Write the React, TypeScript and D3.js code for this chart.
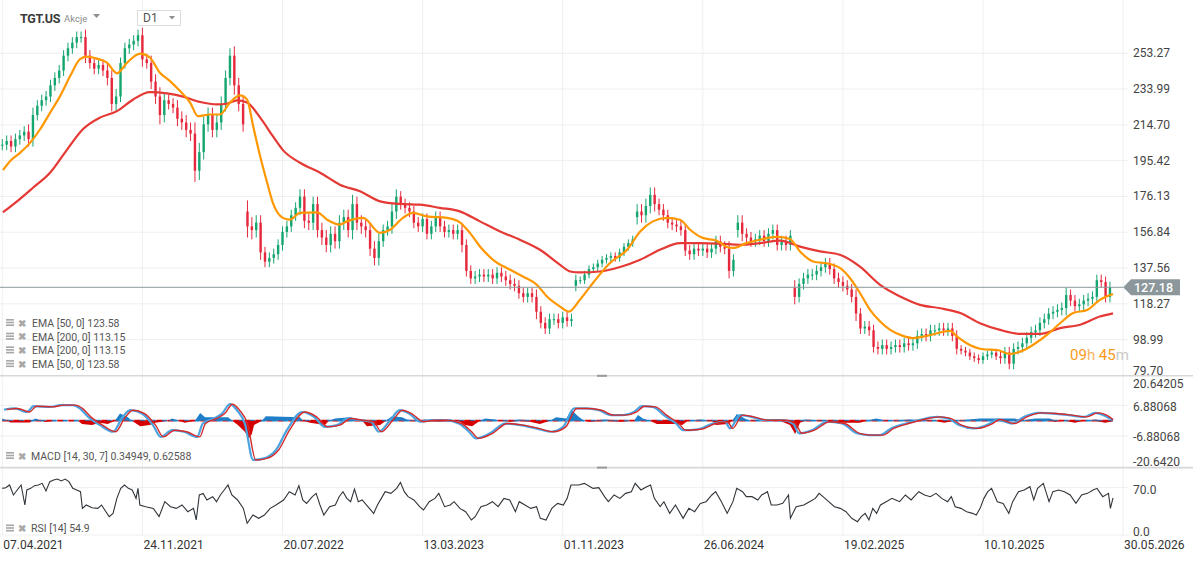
import React from "react";
import * as d3 from "d3";

// ---- data (weekly resolution, x in weeks from 07.04.2021) ----
const closes: number[] = [
  204, 206, 203, 207, 209, 211, 207, 220, 225, 228,
  230, 236, 240, 244, 252, 256, 259, 262, 262, 252,
  248, 245, 247, 244, 240, 226, 230, 248, 256, 258,
  260, 263, 250, 248, 238, 230, 220, 228, 226, 224,
  218, 216, 212, 210, 190, 200, 215, 220, 212, 216,
  226, 240, 252, 236, 226, 215, 160, 158, 162, 146,
  141, 143, 145, 150, 157, 160, 166, 170, 176, 163,
  162, 172, 158, 154, 150, 156, 152, 162, 165, 158,
  172, 162, 160, 158, 148, 143, 152, 158, 160, 168,
  176, 172, 170, 168, 162, 160, 164, 156, 160, 165,
  160, 157, 158, 156, 158, 150, 136, 132, 133, 134,
  133, 134, 132, 135, 133, 131, 129, 128, 124, 122,
  124, 122, 114, 108, 105, 110, 110, 108, 111, 109, 110,
  131, 131, 134, 137, 138, 140, 142, 143, 144, 143,
  146, 149, 151, 153, 168, 166, 171, 177, 172, 169,
  166, 162, 161, 160, 158, 147, 145, 148, 147, 148,
  146, 148, 152, 149, 148, 136, 142, 162, 156, 154,
  152, 153, 155, 152, 156, 158, 150, 152, 150, 155,
  122, 129, 132, 134, 134, 136, 138, 140, 137, 132,
  130, 128, 126, 122, 113, 105, 106, 104, 95, 94,
  96, 94, 95, 96, 95, 97, 96, 97, 101, 102,
  101, 104, 104, 105, 104, 105, 101, 94, 93, 92,
  90, 89, 88, 90, 91, 92, 90, 89, 92, 86,
  94, 95, 97, 100, 103, 104, 108, 110, 113, 114,
  115, 116, 123, 120, 117, 118, 120, 121, 122, 131,
  130, 122, 127.18,
];

// how far each week's candle reaches beyond its body (price units)
const weeklyRange: number[] = [
  3, 3, 3, 3, 3, 3, 4, 4, 3, 3,
  3, 3, 3, 3, 3, 3, 3, 3, 3, 4,
  3, 3, 3, 3, 4, 4, 4, 3, 3, 3,
  3, 3, 4, 3, 4, 4, 5, 4, 3, 3,
  4, 4, 4, 4, 6, 5, 4, 4, 4, 4,
  4, 4, 4, 5, 4, 4, 6, 5, 4, 4,
  3, 3, 3, 3, 3, 3, 3, 3, 4, 4,
  4, 4, 4, 4, 4, 4, 4, 4, 4, 4,
  5, 4, 4, 4, 4, 4, 4, 3, 3, 4,
  4, 3, 3, 3, 3, 3, 3, 3, 3, 3,
  3, 3, 3, 3, 3, 4, 3, 3, 3, 3,
  3, 3, 3, 3, 3, 3, 3, 3, 3, 3,
  3, 3, 4, 3, 3, 3, 3, 3, 3, 3, 3,
  3, 2, 2, 2, 2, 2, 2, 2, 2, 2,
  2, 2, 2, 2, 4, 4, 4, 4, 4, 3,
  3, 3, 3, 3, 3, 3, 3, 3, 3, 3,
  3, 3, 3, 3, 3, 4, 3, 4, 4, 3,
  3, 3, 3, 3, 3, 3, 3, 3, 3, 3,
  4, 3, 3, 3, 3, 3, 3, 3, 3, 3,
  3, 3, 3, 3, 4, 3, 3, 3, 3, 3,
  3, 3, 3, 3, 3, 3, 3, 3, 3, 3,
  3, 3, 3, 3, 3, 3, 3, 3, 2, 2,
  2, 2, 2, 2, 2, 2, 2, 3, 3, 3,
  3, 3, 3, 3, 3, 3, 3, 3, 3, 3,
  3, 3, 4, 3, 3, 3, 3, 3, 3, 3,
  3, 3, 3,
];

// bars that open on a gap: [week, open]
const gapOpens: [number, number][] = [[56, 168], [131, 128], [145, 165], [168, 158], [181, 127]];

const ema50: [number, number][] = [
  [0.16, 190.3], [1.76, 195.1], [4.04, 199.6], [6.33, 205.0], [8.61, 212.2], [10.9, 221.2], [13.2, 230.2],
  [15.5, 241.0], [17.7, 250.0], [19.3, 251.5], [21.6, 250.4], [23.9, 248.2], [26.2, 242.5], [28.5, 248.2],
  [31.5, 253.1], [33.7, 251.0], [36.0, 242.8], [38.3, 238.3], [40.6, 232.9], [42.9, 226.7], [44.7, 219.4],
  [47.4, 220.3], [49.7, 220.3], [52.0, 226.7], [54.3, 230.6], [55.9, 228.4], [57.3, 214.0], [58.9, 197.8],
  [60.5, 183.5], [61.8, 172.7], [64.1, 164.6], [65.7, 163.6], [68.0, 167.3], [71.9, 167.6], [74.2, 163.6],
  [77.1, 161.0], [78.7, 162.7], [82.4, 164.6], [86.3, 156.5], [88.6, 158.2], [91.5, 164.6], [93.8, 167.3],
  [97.0, 165.4], [101.6, 164.6], [104.5, 162.2], [106.8, 156.5], [109.1, 149.2], [112.1, 142.0], [116.0, 136.6],
  [118.9, 133.0], [122.1, 128.5], [124.4, 122.2], [127.4, 116.8], [129.4, 114.1], [131.9, 120.4], [134.9, 129.5],
  [138.8, 140.3], [142.7, 147.4], [145.7, 157.3], [148.6, 162.7], [151.8, 164.6], [154.8, 163.6], [157.1, 158.2],
  [160.0, 153.8], [163.2, 152.3], [165.5, 148.9], [166.9, 148.4], [170.1, 151.1], [173.1, 152.8], [176.9, 154.3],
  [179.9, 153.2], [182.2, 146.5], [185.2, 141.1], [189.1, 139.7], [191.3, 137.6], [193.6, 132.2], [195.9, 124.1],
  [198.2, 115.0], [200.5, 108.7], [202.8, 104.2], [205.7, 101.0], [208.0, 99.8], [211.2, 101.0], [214.2, 102.8],
  [216.5, 103.7], [218.1, 100.6], [221.0, 96.1], [224.0, 93.8], [227.2, 93.4], [230.2, 91.3], [232.5, 92.5],
  [235.4, 96.1], [238.6, 101.5], [241.6, 107.8], [244.6, 113.3], [247.8, 115.0], [250.7, 120.4], [253.7, 123.58],
];

const ema200: [number, number][] = [
  [0.16, 167.6], [3.36, 173.5], [7.0, 180.8], [10.9, 188.9], [14.8, 201.4], [18.4, 212.3], [22.3, 218.6],
  [26.2, 222.1], [29.9, 228.4], [33.7, 232.4], [37.6, 231.7], [41.3, 229.9], [45.2, 227.0], [49.0, 225.7],
  [51.3, 226.1], [53.6, 227.9], [55.9, 226.7], [58.9, 218.6], [61.8, 208.6], [64.1, 201.1], [68.0, 194.3],
  [72.6, 188.9], [77.1, 182.5], [81.7, 178.9], [86.3, 173.5], [90.8, 172.1], [95.4, 171.7], [99.9, 170.0],
  [104.5, 168.1], [109.1, 162.7], [113.7, 157.3], [118.2, 152.8], [122.8, 147.4], [127.4, 139.3], [129.7, 135.7],
  [131.9, 135.2], [136.5, 135.7], [141.1, 138.1], [145.7, 142.0], [150.2, 147.4], [154.8, 151.0], [159.4, 151.0],
  [163.9, 150.7], [168.5, 150.1], [173.1, 151.0], [177.6, 152.3], [182.2, 149.1], [186.8, 146.5], [191.3, 144.7],
  [195.9, 138.3], [200.5, 128.5], [205.1, 122.2], [209.6, 117.7], [214.2, 115.9], [218.8, 113.3], [223.3, 107.8],
  [227.9, 104.2], [232.5, 102.1], [237.1, 102.1], [241.6, 105.2], [246.2, 107.0], [250.7, 111.4], [253.7, 113.15],
];

const macdLine: [number, number][] = [
  [0.4, 5.0], [2.9, 5.5], [5.6, 3.9], [7.2, 6.5], [10.9, 6.2], [13.4, 7.0], [16.1, 7.0], [17.7, 5.5], [19.6, 1.7],
  [22.3, -2.0], [25.3, -5.0], [27.3, 1.0], [29.2, 4.7], [31.9, 3.2], [34.4, -2.0], [36.2, -7.3], [38.8, -4.3],
  [41.5, -5.0], [44.5, -7.3], [45.8, -1.3], [48.4, 1.0], [50.2, 3.2], [52.0, 7.4], [53.6, 4.7], [55.4, -1.3],
  [57.3, -17.7], [59.8, -17.0], [62.5, -13.2], [65.0, -4.3], [68.5, 3.9], [71.2, 1.7], [73.7, -2.8], [76.5, -2.0],
  [79.0, 1.0], [81.7, 0.2], [84.2, -0.5], [86.0, -5.0], [88.6, 0.2], [90.8, 4.7], [92.9, 3.2], [95.6, -0.5],
  [98.1, 0.2], [100.9, 0.2], [104.3, -1.3], [106.6, -5.0], [108.2, -8.0], [111.4, -5.7], [114.8, -1.3],
  [118.3, -2.0], [121.9, -3.5], [125.3, -5.0], [128.1, -2.8], [130.6, 5.5], [133.3, 5.5], [136.3, 4.7],
  [139.0, 2.5], [141.8, 2.5], [144.3, 3.9], [146.1, 6.5], [148.6, 6.2], [151.1, 2.5], [153.9, -1.3], [155.5, -4.3],
  [158.9, -3.9], [162.3, -1.3], [165.1, -0.5], [166.2, -3.5], [168.5, 2.5], [171.0, 1.7], [174.4, 0.2],
  [178.1, 0.2], [180.6, -1.3], [182.0, -5.7], [184.9, -4.3], [188.4, -0.5], [191.8, -1.3], [195.2, -5.7],
  [197.9, -6.5], [200.5, -6.5], [203.0, -3.5], [206.4, -1.3], [209.9, 0.5], [213.5, 1.7], [216.0, 1.0],
  [218.5, -2.0], [222.0, -3.5], [225.6, -1.3], [227.2, 0.5], [230.6, -1.3], [233.4, 1.7], [236.8, 3.5],
  [240.2, 3.2], [243.6, 2.5], [247.1, 1.7], [249.6, 3.5], [252.3, 1.7], [253.7, 0.35],
];
const signalLag = 0.6; // weeks the signal line trails the MACD line

const macdHist: [number, number][] = [
  [0, 1.0], [1.3, 0], [1.8, -0.8], [6.3, -0.8], [6.8, 0], [7.5, 1.0], [9.1, 0], [9.8, -0.6], [11.8, 0], [17.3, 0],
  [18.2, -1.5], [20.5, -2.0], [22.3, -1.0], [24.1, -1.5], [25.7, 0], [26.9, 3.2], [28.7, 1.5], [29.6, 0],
  [31.5, -2.5], [33.7, -2.0], [34.9, -1.0], [37.9, 0], [38.8, 1.0], [40.4, 0], [41.7, -1.0], [44.0, 0],
  [45.2, 3.5], [46.3, 1.5], [51.6, 1.5], [52.5, 0], [53.8, -2.0], [55.4, -5.0], [56.3, -8.0], [57.0, -6.0],
  [57.5, -2.0], [59.3, 0], [60.2, 2.0], [68.0, 1.5], [68.7, 0], [70.3, -1.0], [73.7, -2.0], [74.6, 0],
  [76.0, 1.0], [79.4, 1.5], [82.2, 0], [83.3, -2.5], [86.3, -2.0], [87.6, 0], [89.0, 2.0], [91.3, 1.5],
  [92.4, 0.5], [95.4, 0], [96.5, 0.5], [100.0, -0.5], [102.3, 0.5], [104.1, 0], [105.7, -2.0], [107.3, -2.5],
  [109.1, 0], [110.3, 1.0], [112.5, 0.5], [113.7, 0], [116.0, -0.5], [118.2, 0.5], [120.5, -0.5], [122.8, -1.5],
  [125.1, 0], [126.5, 1.5], [128.8, 1.0], [130.1, 4.7], [131.5, 2.0], [132.9, 0], [134.2, -0.5], [137.7, 0.5],
  [141.1, -0.5], [144.3, 0], [145.2, 2.5], [146.3, 1.0], [147.9, 0], [149.5, -1.5], [153.7, -1.5], [155.3, -2.0],
  [156.6, 0], [159.4, 0.5], [162.1, 0], [163.0, -2.0], [165.8, -1.5], [166.7, 0], [167.8, 3.0], [169.6, 1.0],
  [170.8, 0], [174.2, 0.5], [177.6, 0], [179.9, -2.0], [181.1, -6.0], [182.2, -1.0], [183.4, 0.5], [187.9, 0],
  [189.1, -1.0], [195.9, -1.0], [197.3, 0], [199.6, 1.0], [202.1, 0], [207.3, 0.5], [213.0, 0], [215.1, -1.0],
  [217.6, 0], [223.3, 1.0], [231.3, 1.0], [232.5, 0], [235.9, 1.0], [239.3, 1.0], [240.5, -0.5], [242.7, 0],
  [245.0, -1.0], [247.1, 0], [249.6, 0.5], [251.9, -1.0], [253.7, -0.28],
];

const rsi: [number, number][] = [
  [0, 69.0], [0.79, 70.0], [1.66, 74.0], [2.54, 59.2], [3.41, 66.6], [4.29, 74.0], [5.16, 44.4], [5.6, 66.6],
  [6.48, 69.0], [7.35, 73.0], [8.23, 74.0], [9.1, 76.4], [9.98, 65.1], [10.85, 78.9], [11.73, 81.4], [12.6, 82.8],
  [13.48, 79.9], [14.35, 82.8], [15.23, 78.9], [16.1, 69.0], [16.98, 66.6], [17.86, 64.1], [18.29, 39.4],
  [19.17, 44.4], [20.48, 40.4], [21.8, 39.4], [22.67, 44.4], [23.55, 35.5], [24.42, 27.1], [25.3, 32.0],
  [26.17, 54.2], [27.05, 69.0], [27.92, 74.0], [28.8, 69.0], [29.67, 66.6], [30.55, 54.2], [30.99, 69.0],
  [31.42, 44.4], [32.74, 41.9], [34.49, 39.4], [35.8, 27.1], [37.11, 49.3], [38.43, 41.9], [39.74, 39.4],
  [41.05, 44.4], [42.37, 34.5], [43.68, 39.4], [44.29, 22.2], [45.0, 59.2], [45.87, 61.6], [46.74, 51.8],
  [48.05, 56.7], [48.93, 49.3], [49.8, 59.2], [50.68, 66.6], [51.55, 74.0], [52.43, 59.2], [53.74, 51.8],
  [55.06, 39.4], [55.93, 17.3], [57.25, 29.6], [58.56, 24.7], [59.87, 29.6], [61.19, 39.4], [62.5, 44.4],
  [64.25, 51.8], [65.56, 64.1], [66.87, 59.2], [67.75, 73.0], [68.62, 51.8], [69.5, 46.8], [70.81, 56.7],
  [71.69, 61.6], [72.56, 44.4], [73.44, 29.6], [74.75, 41.9], [76.06, 44.4], [76.94, 56.7], [77.81, 64.1],
  [78.69, 54.2], [79.56, 49.3], [80.44, 68.0], [81.31, 49.3], [82.19, 51.8], [83.5, 41.9], [84.82, 32.0],
  [85.69, 44.4], [86.57, 54.2], [87.44, 64.1], [88.76, 61.6], [90.07, 69.0], [90.94, 77.9], [91.82, 64.1],
  [92.69, 56.7], [94.01, 51.8], [95.32, 41.9], [96.2, 37.0], [97.51, 49.3], [98.82, 54.2], [99.7, 61.6],
  [101.01, 41.9], [102.32, 44.4], [103.2, 49.3], [104.51, 39.4], [105.82, 34.5], [107.14, 22.2], [108.01, 27.1],
  [109.33, 41.9], [110.64, 44.4], [111.95, 49.3], [113.26, 41.9], [114.58, 54.2], [115.89, 51.8], [117.2, 34.5],
  [118.08, 49.3], [119.39, 44.4], [120.7, 39.4], [122.02, 41.9], [122.89, 24.7], [124.2, 22.2], [125.52, 39.4],
  [126.83, 46.8], [128.14, 44.4], [129.02, 54.2], [129.89, 74.0], [131.65, 74.0], [132.96, 76.4], [134.27, 71.5],
  [134.93, 69.0], [136.24, 70.0], [137.56, 56.7], [138.43, 49.3], [139.74, 59.2], [141.06, 54.2], [142.37, 61.6],
  [143.68, 64.1], [144.56, 76.4], [145.87, 66.6], [147.18, 71.5], [148.06, 74.0], [148.93, 54.2], [150.25, 41.9],
  [151.12, 49.3], [152.44, 32.0], [153.75, 44.4], [155.5, 24.7], [156.81, 39.4], [158.13, 34.5], [159.44, 46.8],
  [160.75, 49.3], [162.06, 59.2], [162.94, 64.1], [164.25, 49.3], [165.57, 32.0], [166.88, 49.3], [167.75, 69.0],
  [169.07, 64.1], [169.94, 56.7], [171.25, 56.7], [172.57, 51.8], [173.44, 59.2], [174.76, 64.1], [175.63, 44.4],
  [176.94, 44.4], [178.26, 46.8], [179.57, 59.2], [180.01, 24.7], [181.32, 41.9], [183.07, 44.4], [184.38, 49.3],
  [185.7, 54.2], [186.57, 61.6], [187.45, 56.7], [188.76, 49.3], [190.07, 41.9], [191.39, 39.4], [192.7, 34.5],
  [194.01, 24.7], [195.33, 19.7], [196.2, 27.1], [197.08, 32.0], [197.95, 22.2], [198.83, 39.4], [199.7, 32.0],
  [200.58, 44.4], [201.89, 49.3], [203.2, 54.2], [204.08, 51.8], [204.95, 49.3], [206.27, 59.2], [207.58, 51.8],
  [209.33, 64.1], [210.64, 59.2], [211.96, 56.7], [213.27, 61.6], [214.58, 54.2], [215.9, 49.3], [216.77, 56.7],
  [217.65, 41.9], [218.96, 39.4], [220.27, 34.5], [221.59, 32.0], [222.46, 29.6], [223.34, 39.4], [224.21, 54.2],
  [225.09, 64.1], [225.96, 69.0], [227.27, 49.3], [228.59, 46.8], [229.9, 32.0], [230.78, 49.3], [232.09, 64.1],
  [233.4, 66.6], [234.71, 71.5], [235.59, 51.8], [236.46, 69.0], [237.78, 76.4], [239.09, 49.3], [239.97, 64.1],
  [241.28, 66.6], [242.59, 64.1], [243.91, 59.2], [245.22, 46.8], [246.53, 59.2], [247.85, 61.6], [249.16, 66.6],
  [250.03, 69.0], [251.35, 56.7], [252.66, 61.6], [253.1, 39.4], [253.7, 54.9],
];

const priceTicks = [253.27, 233.99, 214.7, 195.42, 176.13, 156.84, 137.56, 118.27, 98.99, 79.7];
const macdTicks = [20.64205, 6.88068, -6.88068, -20.642];
const macdTickLabels = ["20.64205", "6.88068", "-6.88068", "-20.6420"];
const rsiTicks = [70, 0];
const dateWeeks = [0, 32, 64, 96, 128, 160, 192, 224, 256];
const dateLabels = ["07.04.2021", "24.11.2021", "20.07.2022", "13.03.2023", "01.11.2023", "26.06.2024", "19.02.2025", "10.10.2025", "30.05.2026"];
const lastPrice = 127.18;
const emaLegends = ["EMA [50, 0] 123.58", "EMA [200, 0] 113.15", "EMA [200, 0] 113.15", "EMA [50, 0] 123.58"];
const macdLegend = "MACD [14, 30, 7] 0.34949, 0.62588";
const rsiLegend = "RSI [14] 54.9";

const FONT = "Roboto, 'Noto Sans', sans-serif";
const GREEN = "#15a56f";
const RED = "#e5283c";
const GRID = "#efefef";

function LegendIcon({ x, y }: { x: number; y: number }) {
  return (
    <g>
      <rect x={x} y={y - 4} width={8} height={1.6} fill="#a6a6a6" />
      <rect x={x} y={y - 1.3} width={8} height={1.6} fill="#a6a6a6" />
      <rect x={x} y={y + 1.4} width={8} height={1.6} fill="#a6a6a6" />
      <text x={x + 12} y={y + 3.5} fontSize={10} fill="#a8a8a8" fontFamily={FONT} fontWeight={700}>✖</text>
    </g>
  );
}

export default function App() {
  const W = 1193, H = 562;
  const x = d3.scaleLinear().domain([0, 256]).range([2.3, 1123.1]);
  const yP = d3.scaleLinear().domain([79.7, 253.27]).range([375.4, 53.3]);
  const yM = d3.scaleLinear().domain([-20.64205, 20.64205]).range([466.5, 374.8]);
  const yR = d3.scaleLinear().domain([0, 100]).range([535, 467.4]);

  const lineP = d3.line<[number, number]>().x(d => x(d[0])).y(d => yP(d[1])).curve(d3.curveMonotoneX);
  const lineM = d3.line<[number, number]>().x(d => x(d[0])).y(d => yM(d[1])).curve(d3.curveMonotoneX);
  const lineR = d3.line<[number, number]>().x(d => x(d[0])).y(d => yR(d[1]));
  const histPos = d3.area<[number, number]>().x(d => x(d[0])).y0(yM(0)).y1(d => yM(Math.max(0, d[1])));
  const histNeg = d3.area<[number, number]>().x(d => x(d[0])).y0(yM(0)).y1(d => yM(Math.min(0, d[1])));
  const signal: [number, number][] = macdLine.map(([w, v]) => [Math.min(w + signalLag, 253.7), v]);

  const bw = 2.4;
  const candles = closes.map((c, i) => {
    const gap = gapOpens.find(g => g[0] === i);
    const o = gap ? gap[1] : i === 0 ? c : closes[i - 1];
    const hi = Math.max(o, c) + weeklyRange[i];
    const lo = Math.min(o, c) - weeklyRange[i];
    const top = yP(Math.max(o, c));
    const h = Math.max(1, Math.abs(yP(o) - yP(c)));
    const col = c >= o ? GREEN : RED;
    const cx = x(i);
    return (
      <g key={i}>
        <line x1={cx} x2={cx} y1={yP(hi)} y2={yP(lo)} stroke={col} strokeWidth={1} />
        <rect x={cx - bw / 2} y={top} width={bw} height={h} fill={col} />
      </g>
    );
  });

  const yLast = yP(lastPrice);
  const plotR = x(256);

  return (
    <div style={{ position: "absolute", left: 0, top: 0, width: W, height: H, background: "#fff" }}>
      <svg width={W} height={H} style={{ display: "block" }} fontFamily={FONT}>
        <rect width={W} height={H} fill="#fff" />
        {/* vertical grid */}
        {dateWeeks.map((w, i) => (
          <line key={"vg" + i} x1={x(w)} x2={x(w)} y1={0} y2={535} stroke={GRID} strokeWidth={1} />
        ))}
        {/* price grid */}
        {priceTicks.slice(0, -1).map((p, i) => (
          <line key={"pg" + i} x1={0} x2={1128} y1={yP(p)} y2={yP(p)} stroke={GRID} />
        ))}
        {macdTicks.slice(1, 3).map((v, i) => (
          <line key={"mg" + i} x1={0} x2={1128} y1={yM(v)} y2={yM(v)} stroke={GRID} />
        ))}
        {rsiTicks.map((v, i) => (
          <line key={"rg" + i} x1={0} x2={1128} y1={yR(v)} y2={yR(v)} stroke={GRID} />
        ))}

        {/* candles */}
        <g>{candles}</g>
        {/* EMA lines */}
        <path d={lineP(ema200) || ""} fill="none" stroke="#e53935" strokeWidth={2.2} />
        <path d={lineP(ema50) || ""} fill="none" stroke="#ff9800" strokeWidth={2.2} />

        {/* last price line & tag */}
        <line x1={0} x2={plotR} y1={yLast} y2={yLast} stroke="#8c979b" strokeWidth={1} />
        <polygon
          points={`${plotR},${yLast} ${plotR + 8},${yLast - 8} ${1180},${yLast - 8} ${1180},${yLast + 8} ${plotR + 8},${yLast + 8}`}
          fill="#8c979b"
        />
        <text x={1134} y={yLast + 4.5} fontSize={12.5} fill="#fff" fontWeight={500}>{lastPrice.toFixed(2)}</text>

        {/* price axis labels */}
        {priceTicks.map((p, i) => (
          <text key={"pl" + i} x={1133} y={Math.min(yP(p), 371) + 4} fontSize={12} fill="#444">{p.toFixed(2)}</text>
        ))}

        {/* countdown */}
        <text x={1070} y={360} fontSize={15}>
          <tspan fill="#f99a1c">09</tspan>
          <tspan fill="#f7b563">h </tspan>
          <tspan fill="#f99a1c">45</tspan>
          <tspan fill="#c9c9c9">m</tspan>
        </text>

        {/* EMA legends */}
        {emaLegends.map((t, i) => (
          <g key={"el" + i}>
            <LegendIcon x={6} y={323 + i * 13.7} />
            <text x={32} y={323 + i * 13.7 + 3.8} fontSize={10.5} fill="#555">{t}</text>
          </g>
        ))}

        {/* pane separators */}
        <line x1={0} x2={W} y1={375.8} y2={375.8} stroke="#d7d7d7" strokeWidth={1.6} />
        <line x1={0} x2={W} y1={467.6} y2={467.6} stroke="#d7d7d7" strokeWidth={1.6} />
        <rect x={597} y={374.8} width={10} height={2} fill="#9a9a9a" />
        <rect x={597} y={466.6} width={10} height={2} fill="#9a9a9a" />

        {/* MACD pane */}
        <line x1={x(0)} x2={x(253.7)} y1={yM(0)} y2={yM(0)} stroke="#d50000" strokeWidth={1.6} strokeDasharray="6 5" />
        <line x1={x(0) + 5.5} x2={x(253.7)} y1={yM(0)} y2={yM(0)} stroke="#1e7fc8" strokeWidth={1.6} strokeDasharray="5 6" />
        <path d={histPos(macdHist) || ""} fill="#1e7fc8" />
        <path d={histNeg(macdHist) || ""} fill="#d50000" />
        <path d={lineM(macdLine) || ""} fill="none" stroke="#4ba3e0" strokeWidth={2.2} />
        <path d={lineM(signal) || ""} fill="none" stroke="#d62a2a" strokeWidth={1.4} />
        {macdTickLabels.map((t, i) => {
          const yy = i === 0 ? 383.5 : i === 3 ? 462 : yM(macdTicks[i]) + 1.5;
          return <text key={"ml" + i} x={1133} y={yy + 4} fontSize={12} fill="#444">{t}</text>;
        })}
        <LegendIcon x={6} y={456} />
        <text x={31} y={459.8} fontSize={10.5} fill="#555">{macdLegend}</text>

        {/* RSI pane */}
        <path d={lineR(rsi) || ""} fill="none" stroke="#30353a" strokeWidth={1.1} />
        <text x={1133} y={yR(70) + 6.5} fontSize={12} fill="#444">70.0</text>
        <text x={1133} y={531.7 + 4} fontSize={12} fill="#444">0.0</text>
        <LegendIcon x={6} y={528.5} />
        <text x={31} y={532.3} fontSize={10.5} fill="#555">{rsiLegend}</text>

        {/* date axis */}
        {dateLabels.map((t, i) => (
          <text key={"dl" + i} x={x(dateWeeks[i]) + 1} y={548.5} fontSize={12} fill="#333">{t}</text>
        ))}

        {/* header */}
        <text x={20} y={22.5} fontSize={12.5} fontWeight={700} fill="#3a3a3a" letterSpacing={-0.3}>TGT.US</text>
        <text x={64} y={22} fontSize={9.5} fill="#8a8a8a">Akcje</text>
        <polygon points="93,14 100,14 96.5,18" fill="#8f8f8f" />
        <rect x={137.5} y={10.5} width={43} height={15} fill="#fff" stroke="#dcdcdc" />
        <text x={143} y={22} fontSize={12} fill="#555">D1</text>
        <polygon points="169,16 175,16 172,19.5" fill="#8f8f8f" />
      </svg>
    </div>
  );
}
